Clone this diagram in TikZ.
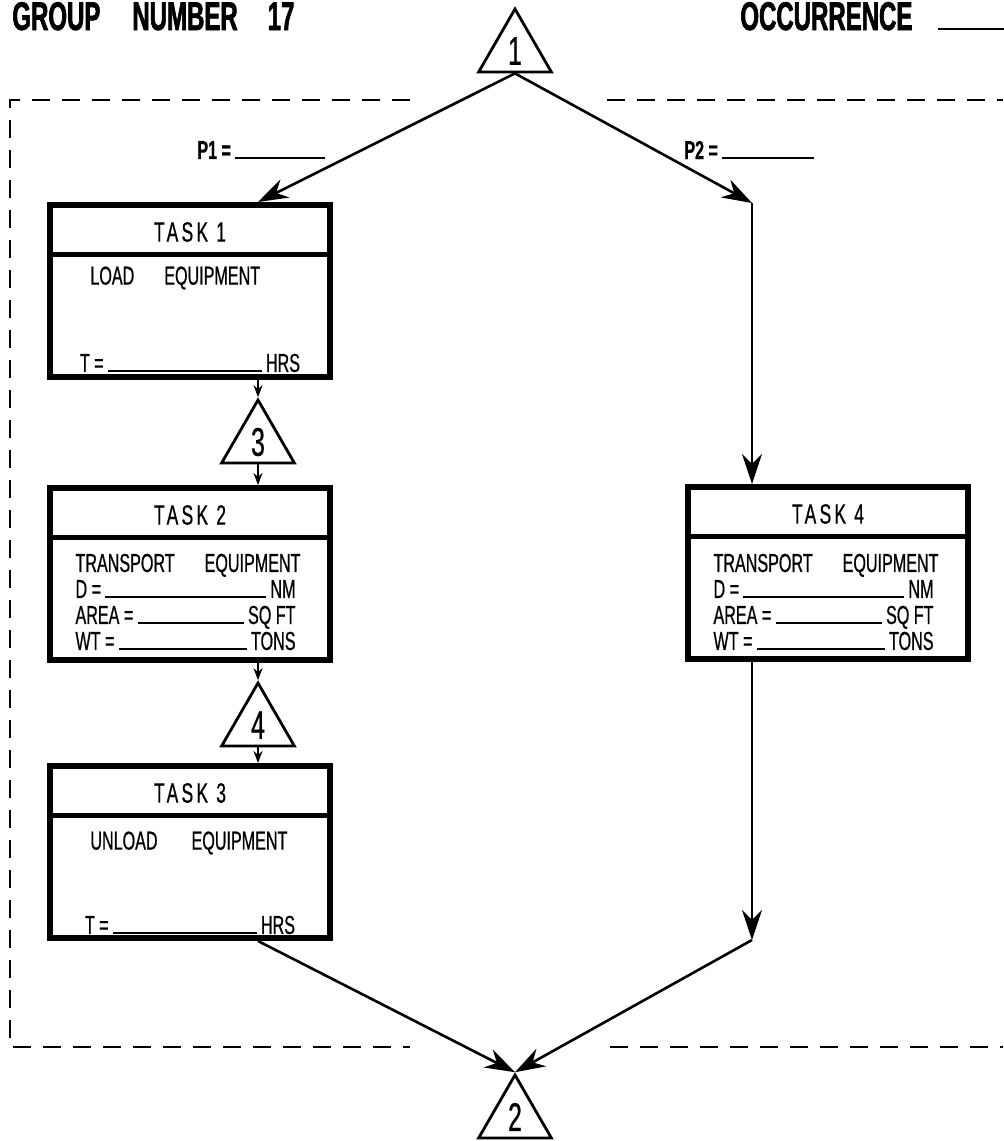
\documentclass[tikz,border=0pt]{standalone}
\usepackage{fontspec}
\setmainfont{Liberation Sans}[FakeStretch=0.62,FakeBold=0.6]
\newfontfamily\cabfont{Liberation Sans}[FakeStretch=0.6,FakeBold=1.6]
\newfontfamily\titfont{Liberation Sans}[FakeStretch=0.62,FakeBold=0.6,LetterSpace=12]
\usetikzlibrary{arrows.meta,positioning,calc,shapes.geometric}
\newcommand{\raya}{\leaders\hrule height 0.9pt\hfill}
\newcommand{\campo}[3][110pt]{\makebox[#1][l]{#2\,\raya\,#3}}
\tikzset{
  tarea/.style   = {draw, line width=3pt, minimum width=140pt, minimum height=86pt,
                    inner sep=0pt},
  titulo/.style  = {font=\titfont\fontsize{14}{14}\selectfont, inner sep=0pt},
  texto/.style   = {font=\fontsize{13}{13}\selectfont, align=left, inner sep=0pt},
  linea/.style   = {line width=2.5pt},
  nudo/.style    = {draw, regular polygon, regular polygon sides=3, minimum size=42pt,
                    inner sep=0pt, line width=1.4pt, font=\fontsize{20}{20}\selectfont},
  flecha/.style  = {-{Stealth[length=15pt,width=10pt]}, line width=1.3pt},
  flechac/.style = {-{Stealth[length=6pt,width=4.5pt]}, line width=0.9pt},
  marco/.style   = {dash pattern=on 9pt off 6pt, line width=1.2pt},
  cab/.style     = {font=\cabfont\bfseries\fontsize{20}{20}\selectfont, inner sep=0pt,
                    anchor=base west},
  etiq/.style    = {font=\bfseries\fontsize{13}{13}\selectfont, inner sep=0pt, anchor=west},
}
\begin{document}
\begin{tikzpicture}[x=0.5pt, y=-0.5pt]
  \useasboundingbox (0,0) rectangle (1003,1141);
  \node[cab] (gn) at (12,30) {GROUP\hspace{16pt}NUMBER\hspace{15pt}17};
  \node[cab] (oc) at (740,30) {OCCURRENCE\hspace{13pt}\rule{40pt}{1.2pt}};
  % marco punteado
  \draw[marco] (410,100) -- (10,100) -- (10,1047) -- (410,1047);
  \draw[marco] (607,100) -- (1003,100);
  \draw[marco] (610,1047) -- (1003,1047);
  % nudos
  \node[nudo] (n1) at (515,51) {1};
  \node[nudo] (n3) at (258,442) {3};
  \node[nudo] (n4) at (258,725) {4};
  \node[nudo] (n2) at (515,1117) {2};
  % tareas
  \node[tarea] (t1) at (190,291) {};
  \node[tarea] (t2) at (190,574) {};
  \node[tarea] (t3) at (190,852) {};
  \node[tarea] (t4) at (828,573) {};
  \foreach \t/\n in {t1/1, t2/2, t3/3, t4/4} {
    \node[titulo] (\t h) at ([yshift=-15pt]\t.north) {TASK \n};
    \draw[linea] ([yshift=-26pt]\t.north west) -- ([yshift=-26pt]\t.north east);
  }
  \node[texto, anchor=west] (t1a) at (90,278) {LOAD\hspace{15pt}EQUIPMENT};
  \node[texto] (t1b) at (190,363) {\campo{T\,=}{HRS}};
  \node[texto] (t2a) at (188,602) {TRANSPORT\hspace{15pt}EQUIPMENT\\
    \campo{D =}{NM}\\ \campo{AREA =}{SQ FT}\\ \campo{WT =}{TONS}};
  \node[texto, anchor=west] (t3a) at (90,843) {UNLOAD\hspace{17pt}EQUIPMENT};
  \node[texto] (t3b) at (190,925) {\campo[105pt]{T\,=}{HRS}};
  \node[texto] (t4a) at (826,602) {TRANSPORT\hspace{15pt}EQUIPMENT\\
    \campo{D =}{NM}\\ \campo{AREA =}{SQ FT}\\ \campo{WT =}{TONS}};
  \node[etiq] (p1) at (197,150) {P1\,=\,\rule{45pt}{1pt}};
  \node[etiq] (p2) at (684,150) {P2\,=\,\rule{46pt}{1pt}};
  \coordinate (c1) at (752,203);
  \coordinate (c2) at (752,940);
  \draw[flecha] (n1.south) -- (t1.north -| n3.north);
  \draw[flecha] (n1.south) -- (c1);
  \draw[flecha] (c1) -- (t4.north -| c1);
  \draw[flechac] (t1.south -| n3.north) -- (n3.north);
  \draw[flechac] (n3.south) -- (t2.north -| n3.south);
  \draw[flechac] (t2.south -| n4.north) -- (n4.north);
  \draw[flechac] (n4.south) -- (t3.north -| n4.south);
  \draw[flecha] (t3.south -| n4.south) -- (n2.north);
  \draw[flecha] (t4.south -| c2) -- (c2);
  \draw[flecha] (c2) -- (n2.north);
\end{tikzpicture}
\end{document}
